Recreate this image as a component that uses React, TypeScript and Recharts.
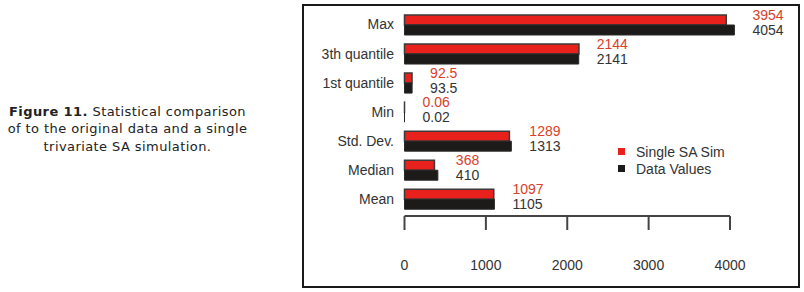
import React from 'react';
import { BarChart, Bar, XAxis, YAxis, Legend, LabelList } from 'recharts';

const categories = ['Max', '3th quantile', '1st quantile', 'Min', 'Std. Dev.', 'Median', 'Mean'];
const simValues = [3954, 2144, 92.5, 0.06, 1289, 368, 1097];
const dataValues = [4054, 2141, 93.5, 0.02, 1313, 410, 1105];
const xTicks = [0, 1000, 2000, 3000, 4000];
const seriesOrder = ['Single SA Sim', 'Data Values'];

const rows = categories.map((c, i) => ({ name: c, sim: simValues[i], data: dataValues[i] }));

const RED = '#e8211d';
const BLACK = '#1d1a1a';
const FONT = "'Liberation Sans', Arial, Helvetica, sans-serif";

const renderValueLabels = (props: any) => {
  const { x, y, width, index } = props;
  const gx = x + width + 18;
  return (
    <g>
      <text x={gx} y={y - 5.5} fill="#d9402b" fontSize={14} fontFamily={FONT}>
        {String(simValues[index])}
      </text>
      <text x={gx} y={y + 9.5} fill="#333" fontSize={14} fontFamily={FONT}>
        {String(dataValues[index])}
      </text>
    </g>
  );
};

const renderLegend = (props: any) => {
  const payload = [...(props.payload || [])].sort(
    (a: any, b: any) => seriesOrder.indexOf(a.value) - seriesOrder.indexOf(b.value)
  );
  return (
    <div style={{ fontFamily: FONT, fontSize: 14, color: '#333' }}>
      {payload.map((entry: any) => (
        <div key={entry.value} style={{ display: 'flex', alignItems: 'center', height: 17 }}>
          <span style={{ display: 'inline-block', width: 7, height: 7, background: entry.color, marginRight: 11 }} />
          <span>{entry.value}</span>
        </div>
      ))}
    </div>
  );
};

export default function App() {
  return (
    <div style={{ position: 'absolute', left: 0, top: 0, width: 804, height: 292, background: '#fff' }}>
      <style>{`.recharts-wrapper [clip-path] { clip-path: none !important; }`}</style>
      <div
        style={{
          position: 'absolute',
          left: 0,
          top: 103,
          width: 255,
          textAlign: 'center',
          fontFamily: "'DejaVu Sans', Verdana, sans-serif",
          fontSize: 13,
          letterSpacing: '0.42px',
          lineHeight: '17.3px',
          color: '#222',
        }}
      >
        <b>Figure 11.</b> Statistical comparison
        <br />
        of to the original data and a single
        <br />
        trivariate SA simulation.
      </div>
      <div
        style={{
          position: 'absolute',
          left: 302,
          top: 4,
          width: 498,
          height: 284,
          border: '2px solid #1a1a1a',
          boxSizing: 'border-box',
        }}
      />
      <div style={{ position: 'absolute', left: 0, top: 0 }}>
        <BarChart
          width={804}
          height={292}
          data={rows}
          layout="vertical"
          margin={{ top: 10, right: 74, bottom: 16, left: 0 }}
          barGap={0}
        >
          <XAxis
            type="number"
            domain={[0, 4000]}
            allowDataOverflow
            ticks={xTicks}
            height={60}
            tickSize={14}
            tickMargin={30}
            axisLine={{ stroke: '#444', strokeWidth: 2 }}
            tickLine={{ stroke: '#444', strokeWidth: 2 }}
            tick={{ fill: '#333', fontSize: 14, fontFamily: FONT }}
          />
          <YAxis
            type="category"
            dataKey="name"
            width={404.5}
            padding={{ top: 0, bottom: 2.7 }}
            axisLine={false}
            tickLine={false}
            tickSize={0}
            tickMargin={10.5}
            tick={{ fill: '#333', fontSize: 14, fontFamily: FONT }}
            interval={0}
          />
          <Legend
            layout="vertical"
            align="center"
            verticalAlign="middle"
            content={renderLegend}
            wrapperStyle={{ left: 618, top: 143, width: 'auto' }}
          />
          <Bar
            dataKey="sim"
            name={seriesOrder[0]}
            fill={RED}
            stroke="#3a3a3a"
            strokeWidth={1.5}
            barSize={10}
            isAnimationActive={false}
          />
          <Bar
            dataKey="data"
            name={seriesOrder[1]}
            fill={BLACK}
            stroke="#2a2a2a"
            strokeWidth={1}
            barSize={10}
            isAnimationActive={false}
          >
            <LabelList dataKey="data" content={renderValueLabels} />
          </Bar>
        </BarChart>
      </div>
    </div>
  );
}
